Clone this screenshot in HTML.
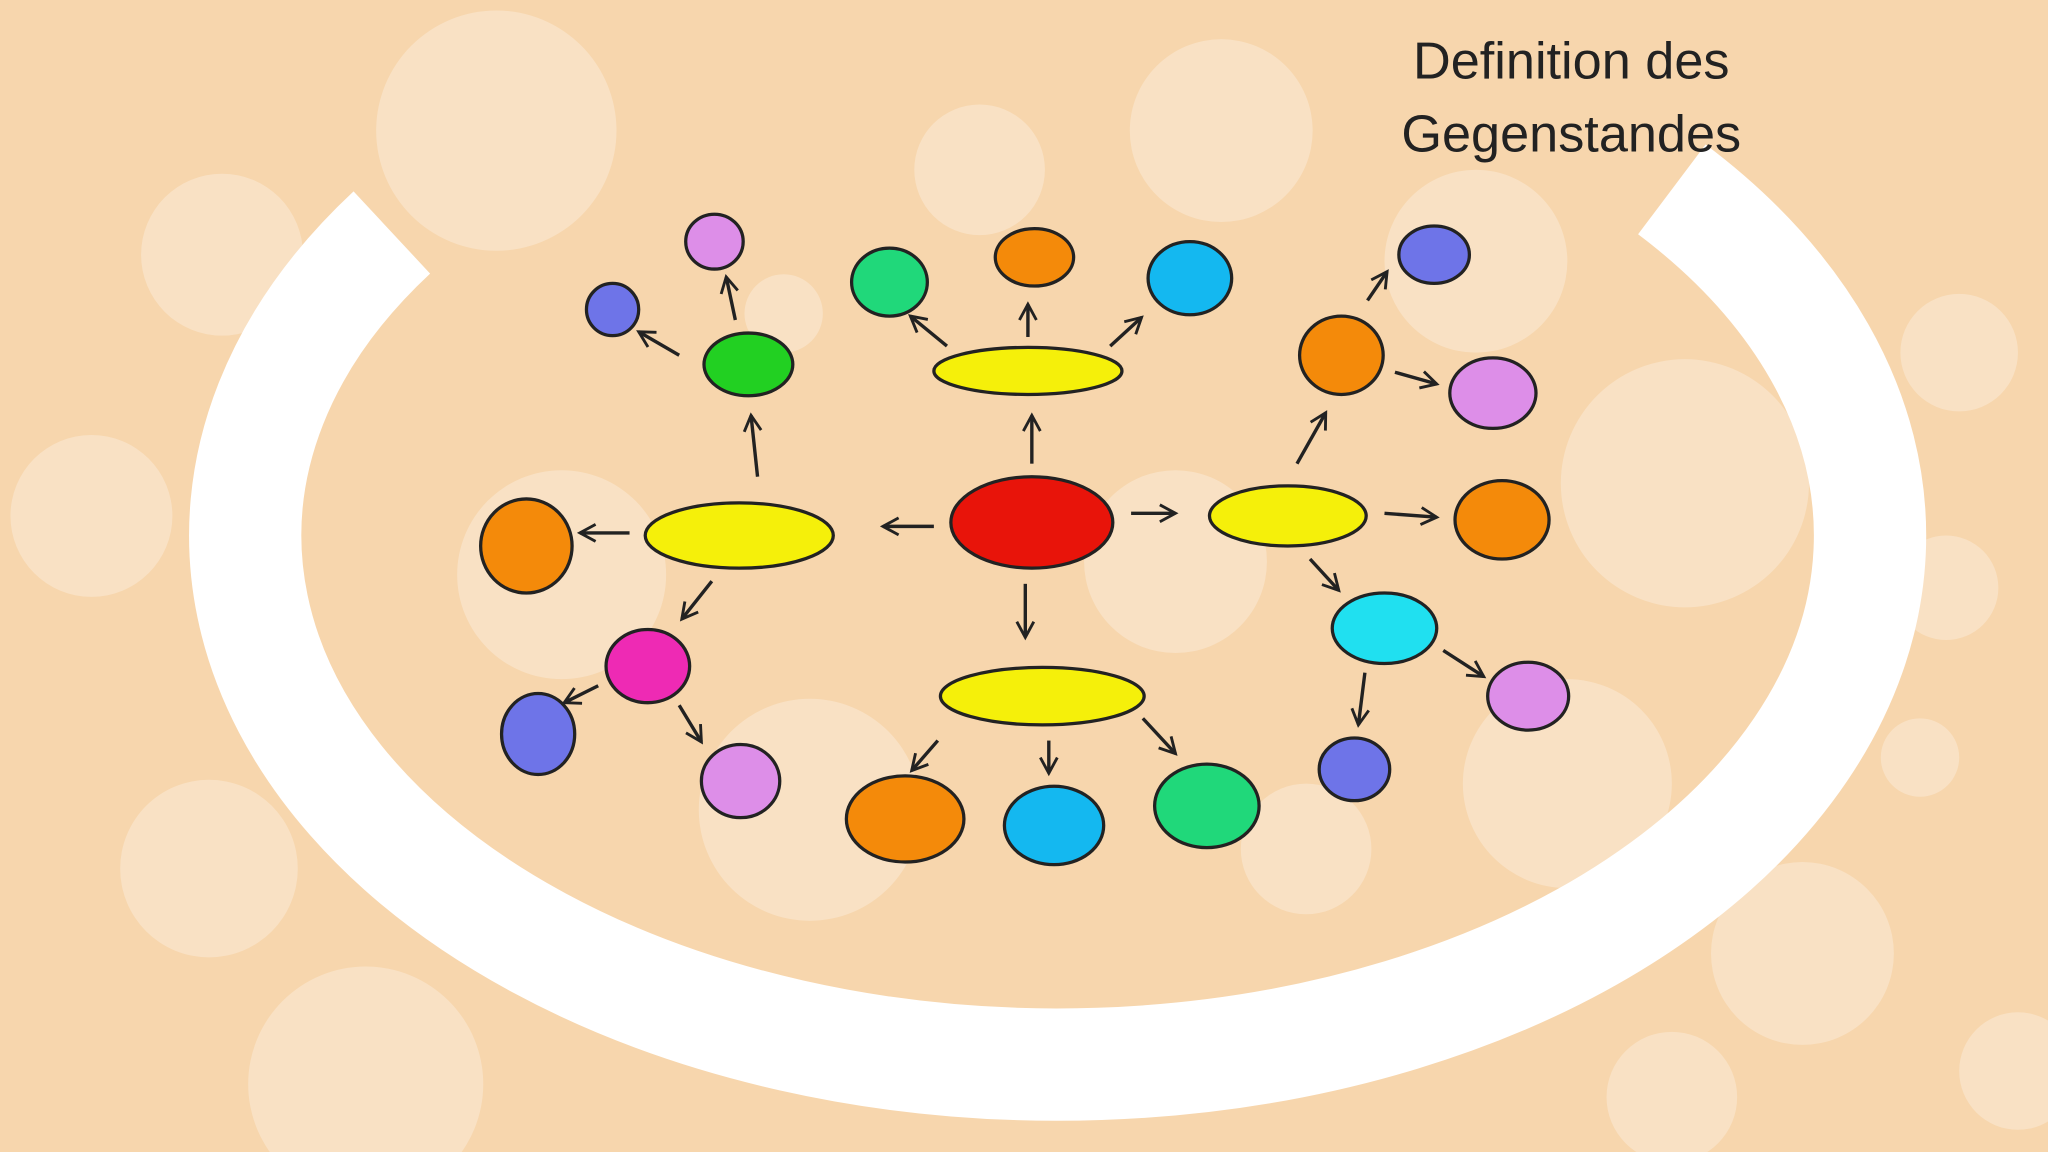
<!DOCTYPE html>
<html><head><meta charset="utf-8"><style>
html,body{margin:0;padding:0;width:2048px;height:1152px;overflow:hidden;background:#f7d6ad}
svg{display:block}
</style></head><body>
<svg width="2048" height="1152" viewBox="0 0 1568 882" xmlns="http://www.w3.org/2000/svg">
<defs>
<marker id="a" viewBox="0 0 16 16" refX="13" refY="8" markerWidth="16" markerHeight="16" markerUnits="userSpaceOnUse" orient="auto">
<path d="M1 1.5 L13 8 L1 14.5" fill="none" stroke="#222" stroke-width="2.2"/>
</marker>
</defs>
<rect width="1568" height="882" fill="#f7d6ad"/>
<g fill="#fff" opacity="0.28">
<circle cx="380" cy="100" r="92"/><circle cx="170" cy="195" r="62"/><circle cx="70" cy="395" r="62"/>
<circle cx="160" cy="665" r="68"/><circle cx="280" cy="830" r="90"/><circle cx="935" cy="100" r="70"/>
<circle cx="750" cy="130" r="50"/><circle cx="1130" cy="200" r="70"/><circle cx="1290" cy="370" r="95"/>
<circle cx="1500" cy="270" r="45"/><circle cx="1490" cy="450" r="40"/><circle cx="1380" cy="730" r="70"/>
<circle cx="1280" cy="840" r="50"/><circle cx="1545" cy="820" r="45"/><circle cx="620" cy="620" r="85"/>
<circle cx="430" cy="440" r="80"/><circle cx="900" cy="430" r="70"/><circle cx="1000" cy="650" r="50"/>
<circle cx="1200" cy="600" r="80"/><circle cx="1470" cy="580" r="30"/><circle cx="600" cy="240" r="30"/>
</g>
<path d="M300 178 A622 405 0 1 0 1280 145" fill="none" stroke="#fff" stroke-width="86"/>
<text x="1203" y="60" font-family="Liberation Sans, sans-serif" font-size="40" fill="#222" text-anchor="middle">Definition des</text>
<text x="1203" y="116" font-family="Liberation Sans, sans-serif" font-size="40" fill="#222" text-anchor="middle">Gegenstandes</text>
<g stroke="#222" stroke-width="2.6" fill="none" marker-end="url(#a)">
<line x1="715" y1="403" x2="676" y2="403"/><line x1="866" y1="393" x2="900" y2="393"/>
<line x1="790" y1="355" x2="790" y2="318"/><line x1="785" y1="447" x2="785" y2="488"/>
<line x1="482" y1="408" x2="444" y2="408"/><line x1="580" y1="365" x2="575" y2="318"/>
<line x1="545" y1="445" x2="522" y2="474"/><line x1="563" y1="245" x2="556" y2="212"/>
<line x1="520" y1="272" x2="489" y2="254"/><line x1="458" y1="525" x2="432" y2="538"/>
<line x1="520" y1="540" x2="537" y2="568"/><line x1="725" y1="265" x2="697" y2="242"/>
<line x1="787" y1="258" x2="787" y2="233"/><line x1="850" y1="265" x2="874" y2="243"/>
<line x1="993" y1="355" x2="1015" y2="316"/><line x1="1060" y1="393" x2="1100" y2="396"/>
<line x1="1003" y1="428" x2="1025" y2="452"/><line x1="1047" y1="230" x2="1062" y2="208"/>
<line x1="1068" y1="285" x2="1100" y2="294"/><line x1="1045" y1="515" x2="1040" y2="555"/>
<line x1="1105" y1="498" x2="1136" y2="518"/><line x1="718" y1="567" x2="698" y2="590"/>
<line x1="803" y1="567" x2="803" y2="592"/><line x1="875" y1="550" x2="900" y2="577"/>
</g>
<g stroke="#222" stroke-width="2.5">
<ellipse cx="790" cy="400" rx="62" ry="35" fill="#e8140a"/>
<ellipse cx="566" cy="410" rx="72" ry="25" fill="#f5f00a"/>
<ellipse cx="787" cy="284" rx="72" ry="18" fill="#f5f00a"/>
<ellipse cx="986" cy="395" rx="60" ry="23" fill="#f5f00a"/>
<ellipse cx="798" cy="533" rx="78" ry="22" fill="#f5f00a"/>
<ellipse cx="573" cy="279" rx="34" ry="24" fill="#22d022"/>
<ellipse cx="469" cy="237" rx="20" ry="20" fill="#6e74e8"/>
<ellipse cx="547" cy="185" rx="22" ry="21" fill="#dd8ee8"/>
<ellipse cx="403" cy="418" rx="35" ry="36" fill="#f48a0a"/>
<ellipse cx="496" cy="510" rx="32" ry="28" fill="#ee2ab4"/>
<ellipse cx="412" cy="562" rx="28" ry="31" fill="#6e74e8"/>
<ellipse cx="567" cy="598" rx="30" ry="28" fill="#dd8ee8"/>
<ellipse cx="681" cy="216" rx="29" ry="26" fill="#20d87a"/>
<ellipse cx="792" cy="197" rx="30" ry="22" fill="#f48a0a"/>
<ellipse cx="911" cy="213" rx="32" ry="28" fill="#14b8f0"/>
<ellipse cx="1027" cy="272" rx="32" ry="30" fill="#f48a0a"/>
<ellipse cx="1098" cy="195" rx="27" ry="22" fill="#6e74e8"/>
<ellipse cx="1143" cy="301" rx="33" ry="27" fill="#dd8ee8"/>
<ellipse cx="1150" cy="398" rx="36" ry="30" fill="#f48a0a"/>
<ellipse cx="1060" cy="481" rx="40" ry="27" fill="#20e0f0"/>
<ellipse cx="1170" cy="533" rx="31" ry="26" fill="#dd8ee8"/>
<ellipse cx="1037" cy="589" rx="27" ry="24" fill="#6e74e8"/>
<ellipse cx="693" cy="627" rx="45" ry="33" fill="#f48a0a"/>
<ellipse cx="807" cy="632" rx="38" ry="30" fill="#14b8f0"/>
<ellipse cx="924" cy="617" rx="40" ry="32" fill="#20d87a"/>
</g>
</svg>
</body></html>
